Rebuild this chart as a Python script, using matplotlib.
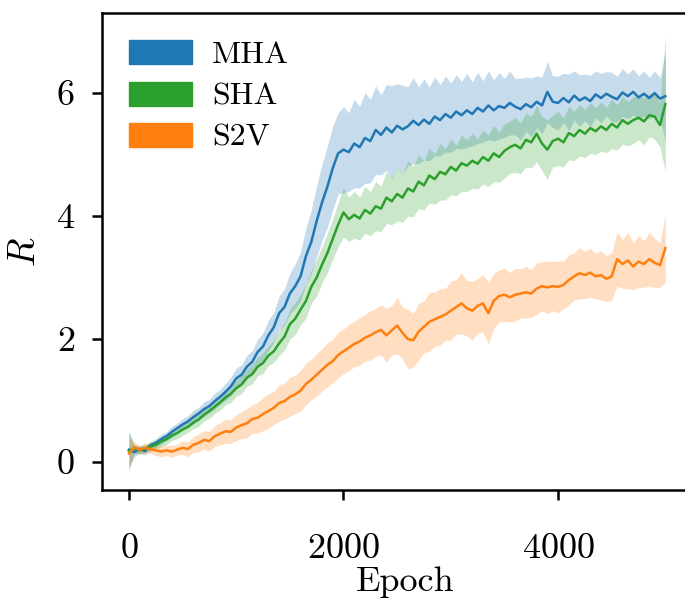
import matplotlib
matplotlib.use("Agg")
import matplotlib.pyplot as plt
from matplotlib.patches import Patch
import numpy as np

# epochs sampled every 50
epochs = list(range(0, 5001, 50))

mha_mean = [0.20, 0.16, 0.21, 0.18, 0.27, 0.31, 0.37, 0.42, 0.49, 0.55,
            0.61, 0.66, 0.73, 0.79, 0.86, 0.91, 0.99, 1.06, 1.14, 1.23,
            1.36, 1.42, 1.55, 1.63, 1.79, 1.88, 2.06, 2.19, 2.42, 2.52,
            2.74, 2.86, 3.02, 3.35, 3.58, 3.92, 4.22, 4.48, 4.78, 5.02,
            5.08, 5.04, 5.18, 5.12, 5.27, 5.22, 5.40, 5.32, 5.44, 5.36,
            5.47, 5.41, 5.46, 5.55, 5.48, 5.57, 5.50, 5.62, 5.56, 5.66,
            5.60, 5.70, 5.64, 5.72, 5.66, 5.76, 5.70, 5.80, 5.72, 5.79,
            5.76, 5.84, 5.78, 5.74, 5.82, 5.77, 5.86, 5.80, 6.02, 5.86,
            5.84, 5.92, 5.85, 5.96, 5.88, 5.93, 5.87, 5.98, 5.92, 5.99,
            5.94, 5.90, 6.01, 5.95, 6.02, 5.93, 5.99, 5.92, 6.00, 5.91,
            5.95]
mha_std = [0.28, 0.08, 0.06, 0.07, 0.06, 0.07, 0.08, 0.07, 0.09, 0.08,
           0.10, 0.09, 0.11, 0.10, 0.12, 0.11, 0.13, 0.12, 0.14, 0.15,
           0.17, 0.16, 0.19, 0.18, 0.21, 0.22, 0.25, 0.24, 0.28, 0.30,
           0.33, 0.36, 0.40, 0.46, 0.52, 0.58, 0.62, 0.66, 0.68, 0.66,
           0.70, 0.64, 0.72, 0.66, 0.74, 0.68, 0.72, 0.65, 0.70, 0.76,
           0.68, 0.72, 0.64, 0.70, 0.62, 0.66, 0.60, 0.64, 0.58, 0.62,
           0.56, 0.60, 0.55, 0.60, 0.52, 0.58, 0.50, 0.56, 0.50, 0.54,
           0.48, 0.52, 0.46, 0.50, 0.44, 0.48, 0.42, 0.46, 0.50, 0.42,
           0.44, 0.40, 0.46, 0.40, 0.42, 0.38, 0.42, 0.38, 0.40, 0.36,
           0.40, 0.37, 0.39, 0.36, 0.38, 0.35, 0.37, 0.34, 0.36, 0.34,
           0.72]

sha_mean = [0.18, 0.22, 0.19, 0.22, 0.25, 0.28, 0.33, 0.37, 0.43, 0.47,
            0.53, 0.57, 0.64, 0.69, 0.77, 0.83, 0.90, 0.97, 1.05, 1.11,
            1.20, 1.26, 1.37, 1.43, 1.55, 1.61, 1.73, 1.80, 1.93, 2.04,
            2.24, 2.33, 2.48, 2.62, 2.85, 3.00, 3.21, 3.40, 3.63, 3.86,
            4.06, 3.95, 4.02, 3.96, 4.10, 4.04, 4.16, 4.12, 4.30, 4.24,
            4.36, 4.30, 4.45, 4.40, 4.56, 4.50, 4.66, 4.60, 4.72, 4.68,
            4.80, 4.74, 4.86, 4.82, 4.90, 4.85, 4.96, 4.90, 5.02, 4.96,
            5.06, 5.12, 5.16, 5.10, 5.24, 5.20, 5.34, 5.18, 5.08, 5.22,
            5.26, 5.20, 5.35, 5.30, 5.40, 5.34, 5.43, 5.38, 5.46, 5.40,
            5.50, 5.44, 5.56, 5.50, 5.56, 5.60, 5.54, 5.64, 5.62, 5.48,
            5.82]
sha_std = [0.32, 0.08, 0.06, 0.07, 0.08, 0.07, 0.08, 0.09, 0.08, 0.09,
           0.10, 0.09, 0.10, 0.11, 0.10, 0.12, 0.11, 0.13, 0.12, 0.14,
           0.13, 0.15, 0.14, 0.16, 0.15, 0.17, 0.16, 0.18, 0.20, 0.22,
           0.24, 0.26, 0.25, 0.28, 0.27, 0.30, 0.29, 0.32, 0.33, 0.36,
           0.40, 0.36, 0.38, 0.35, 0.38, 0.36, 0.40, 0.37, 0.42, 0.38,
           0.44, 0.40, 0.45, 0.41, 0.44, 0.40, 0.45, 0.41, 0.46, 0.42,
           0.45, 0.41, 0.46, 0.42, 0.45, 0.41, 0.44, 0.42, 0.46, 0.41,
           0.44, 0.42, 0.45, 0.41, 0.44, 0.42, 0.46, 0.44, 0.48, 0.42,
           0.44, 0.40, 0.43, 0.40, 0.42, 0.39, 0.41, 0.38, 0.40, 0.37,
           0.40, 0.37, 0.39, 0.36, 0.38, 0.36, 0.38, 0.35, 0.37, 0.36,
           1.10]

s2v_mean = [0.14, 0.24, 0.20, 0.23, 0.21, 0.19, 0.17, 0.19, 0.17, 0.20,
            0.23, 0.21, 0.28, 0.31, 0.36, 0.34, 0.42, 0.46, 0.50, 0.49,
            0.56, 0.60, 0.63, 0.70, 0.72, 0.78, 0.83, 0.88, 0.96, 0.99,
            1.06, 1.10, 1.16, 1.27, 1.34, 1.42, 1.50, 1.58, 1.64, 1.74,
            1.80, 1.86, 1.92, 1.96, 2.02, 2.06, 2.11, 2.15, 2.06, 2.14,
            2.22, 2.10, 2.00, 1.98, 2.12, 2.20, 2.28, 2.32, 2.36, 2.40,
            2.46, 2.52, 2.58, 2.50, 2.46, 2.54, 2.58, 2.42, 2.62, 2.70,
            2.72, 2.68, 2.72, 2.74, 2.76, 2.74, 2.82, 2.86, 2.84, 2.86,
            2.85, 2.88, 2.96, 3.02, 3.07, 3.04, 3.08, 3.02, 3.04, 2.98,
            3.02, 3.30, 3.22, 3.28, 3.18, 3.26, 3.22, 3.30, 3.24, 3.20,
            3.48]
s2v_std = [0.26, 0.08, 0.07, 0.08, 0.07, 0.08, 0.09, 0.08, 0.10, 0.09,
           0.11, 0.12, 0.13, 0.14, 0.15, 0.16, 0.17, 0.18, 0.20, 0.19,
           0.21, 0.22, 0.24, 0.23, 0.25, 0.27, 0.28, 0.27, 0.30, 0.29,
           0.32, 0.31, 0.33, 0.34, 0.33, 0.35, 0.34, 0.36, 0.35, 0.37,
           0.36, 0.38, 0.37, 0.39, 0.38, 0.40, 0.39, 0.41, 0.44, 0.40,
           0.46, 0.42, 0.48, 0.44, 0.46, 0.42, 0.48, 0.44, 0.46, 0.42,
           0.48, 0.44, 0.50, 0.45, 0.48, 0.44, 0.47, 0.50, 0.45, 0.42,
           0.44, 0.40, 0.43, 0.40, 0.42, 0.39, 0.42, 0.40, 0.43, 0.40,
           0.42, 0.39, 0.41, 0.38, 0.42, 0.38, 0.40, 0.37, 0.40, 0.37,
           0.39, 0.44, 0.40, 0.46, 0.38, 0.42, 0.38, 0.44, 0.40, 0.36,
           0.55]

labels = ["MHA", "SHA", "S2V"]
colors = ["#1f77b4", "#2ca02c", "#ff7f0e"]

plt.rcParams["font.family"] = "serif"
plt.rcParams["font.serif"] = ["cmr10"]
plt.rcParams["mathtext.fontset"] = "cm"
plt.rcParams["axes.formatter.use_mathtext"] = True

fig = plt.figure(figsize=(6.85, 5.99), dpi=100)
# right spine is cut off in the reference, so the axes runs past the figure edge
ax = fig.add_axes([0.149, 0.182, 0.885, 0.796])

series = [(mha_mean, mha_std), (sha_mean, sha_std), (s2v_mean, s2v_std)]
x = np.array(epochs)
for (m, s), c in zip(series, colors):
    m = np.array(m)
    s = np.array(s)
    ax.fill_between(x, m - s, m + s, color=c, alpha=0.25, linewidth=0)
for (m, s), c in zip(series, colors):
    ax.plot(x, m, color=c, linewidth=1.8)

ax.set_xlim(-250, 5400)
ax.set_ylim(-0.455, 7.3)
ax.set_xticks([0, 2000, 4000])
ax.set_yticks([0, 2, 4, 6])
ax.set_xlabel("Epoch", fontsize=26, labelpad=1)
ax.set_ylabel("$R$", fontsize=27, labelpad=10)
ax.tick_params(labelsize=26, length=7.5, width=1.8)
ax.tick_params(axis="x", pad=24)
ax.tick_params(axis="y", pad=12)
for sp in ax.spines.values():
    sp.set_linewidth(1.8)

handles = [Patch(facecolor=c, edgecolor=c, label=l) for c, l in zip(colors, labels)]
ax.legend(handles=handles, loc="upper left", frameon=False, fontsize=23,
          handlelength=1.95, handleheight=0.78, handletextpad=0.65,
          labelspacing=0.38, borderaxespad=0.45, borderpad=0.4)

fig.savefig("out.png", dpi=100)
